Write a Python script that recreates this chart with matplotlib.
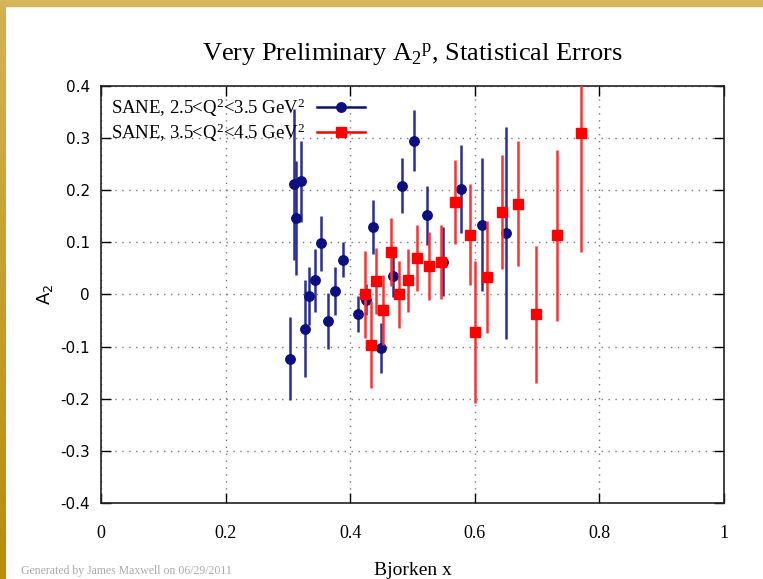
import matplotlib
matplotlib.use("Agg")
import matplotlib.pyplot as plt
from matplotlib.lines import Line2D
import numpy as np

# SANE, 2.5<Q2<3.5
x_lo = [0.303, 0.309, 0.313, 0.321, 0.327, 0.334, 0.343, 0.353, 0.365, 0.376,
        0.388, 0.413, 0.425, 0.437, 0.450, 0.468, 0.483, 0.502, 0.524, 0.549,
        0.578, 0.611, 0.650]
a2_lo = [-0.123, 0.211, 0.147, 0.217, -0.066, -0.003, 0.027, 0.098, -0.051, 0.006,
         0.067, -0.037, -0.010, 0.130, -0.102, 0.035, 0.209, 0.295, 0.152, 0.063,
         0.202, 0.134, 0.118]
err_lo = [0.080, 0.144, 0.110, 0.078, 0.093, 0.055, 0.060, 0.052, 0.054, 0.046,
          0.034, 0.035, 0.030, 0.052, 0.048, 0.040, 0.053, 0.058, 0.057, 0.066,
          0.085, 0.128, 0.204]

# SANE, 3.5<Q2<4.5
x_hi = [0.424, 0.433, 0.442, 0.453, 0.465, 0.478, 0.492, 0.508, 0.526, 0.546,
        0.568, 0.592, 0.601, 0.620, 0.644, 0.670, 0.699, 0.732, 0.770]
a2_hi = [0.000, -0.096, 0.026, -0.029, 0.081, 0.000, 0.027, 0.070, 0.054, 0.062,
         0.177, 0.115, -0.072, 0.034, 0.158, 0.174, -0.038, 0.114, 0.309]
err_hi = [0.083, 0.084, 0.064, 0.067, 0.065, 0.064, 0.060, 0.063, 0.065, 0.071,
          0.081, 0.097, 0.136, 0.107, 0.110, 0.120, 0.131, 0.164, 0.227]

labels = ["SANE, 2.5<Q$^2$<3.5 GeV$^2$", "SANE, 3.5<Q$^2$<4.5 GeV$^2$"]

serif = ["Liberation Serif", "DejaVu Serif"]
plt.rcParams["mathtext.fontset"] = "custom"
plt.rcParams["mathtext.rm"] = "Liberation Serif"
plt.rcParams["mathtext.it"] = "Liberation Serif:italic"
plt.rcParams["mathtext.sf"] = "DejaVu Sans"

blue, red = "#0b0f80", "#ff0000"

fig = plt.figure(figsize=(7.63, 5.79), dpi=100)

# slide border
fig.patches.append(plt.Rectangle((0, 1 - 6 / 579), 1, 6 / 579, transform=fig.transFigure,
                                 color="#d6b65a", zorder=0))
bax = fig.add_axes([0, 0, 6 / 763, 1 - 6 / 579])
bax.imshow(np.linspace(0, 1, 100).reshape(-1, 1), aspect="auto",
           cmap=matplotlib.colors.LinearSegmentedColormap.from_list("g", ["#d4b252", "#bb8b08"]))
bax.axis("off")

ax = fig.add_axes([0.1324, 0.1313, 0.8165, 0.7202])
ax.errorbar(x_lo, a2_lo, yerr=err_lo, fmt="o", color=blue, ecolor="#2a2e98",
            markersize=6.8, elinewidth=1.8, capsize=0, zorder=3)
ax.errorbar(x_hi, a2_hi, yerr=err_hi, fmt="s", color=red, ecolor="#ff3030",
            markersize=7, elinewidth=1.8, capsize=0, zorder=4)

ax.set_xlim(0, 1)
ax.set_ylim(-0.4, 0.4)
ax.set_xticks([0, 0.2, 0.4, 0.6, 0.8, 1])
ax.set_xticklabels(["0", "0.2", "0.4", "0.6", "0.8", "1"], family=serif, fontsize=13)
yt = [-0.4, -0.3, -0.2, -0.1, 0, 0.1, 0.2, 0.3, 0.4]
ax.set_yticks(yt)
ax.set_yticklabels(["%g" % v for v in yt], fontsize=11)
ax.tick_params(direction="in", top=True, right=True, length=7, width=1)
ax.tick_params(axis="x", pad=16)
ax.tick_params(axis="y", pad=8)
ax.grid(True, linestyle=(0, (1, 4)), color="#777777", linewidth=1)
for s in ax.spines.values():
    s.set_linewidth(1.2)
    s.set_color("#222222")

ax.set_title("Very Preliminary A$_2$$^\\mathrm{p}$, Statistical Errors", family=serif,
             fontsize=19, pad=18)
ax.set_xlabel("Bjorken x", family=serif, fontsize=14, labelpad=14)
ax.set_ylabel("$\\mathsf{A_2}$", fontsize=13, labelpad=4)

handles = [Line2D([], [], color=blue, marker="o", markersize=6.8, linewidth=1.8),
           Line2D([], [], color=red, marker="s", markersize=7, linewidth=1.8)]
ax.legend(handles, labels, loc="upper left", frameon=False, markerfirst=False,
          handlelength=2.6, prop={"family": serif, "size": 13.5}, borderaxespad=0.15,
          handletextpad=0.6, labelspacing=0.15)

fig.text(0.028, 0.008, "Generated by James Maxwell on 06/29/2011", family=serif,
         fontsize=8.5, color="#aaaaaa")

fig.savefig("out.png", dpi=100)
